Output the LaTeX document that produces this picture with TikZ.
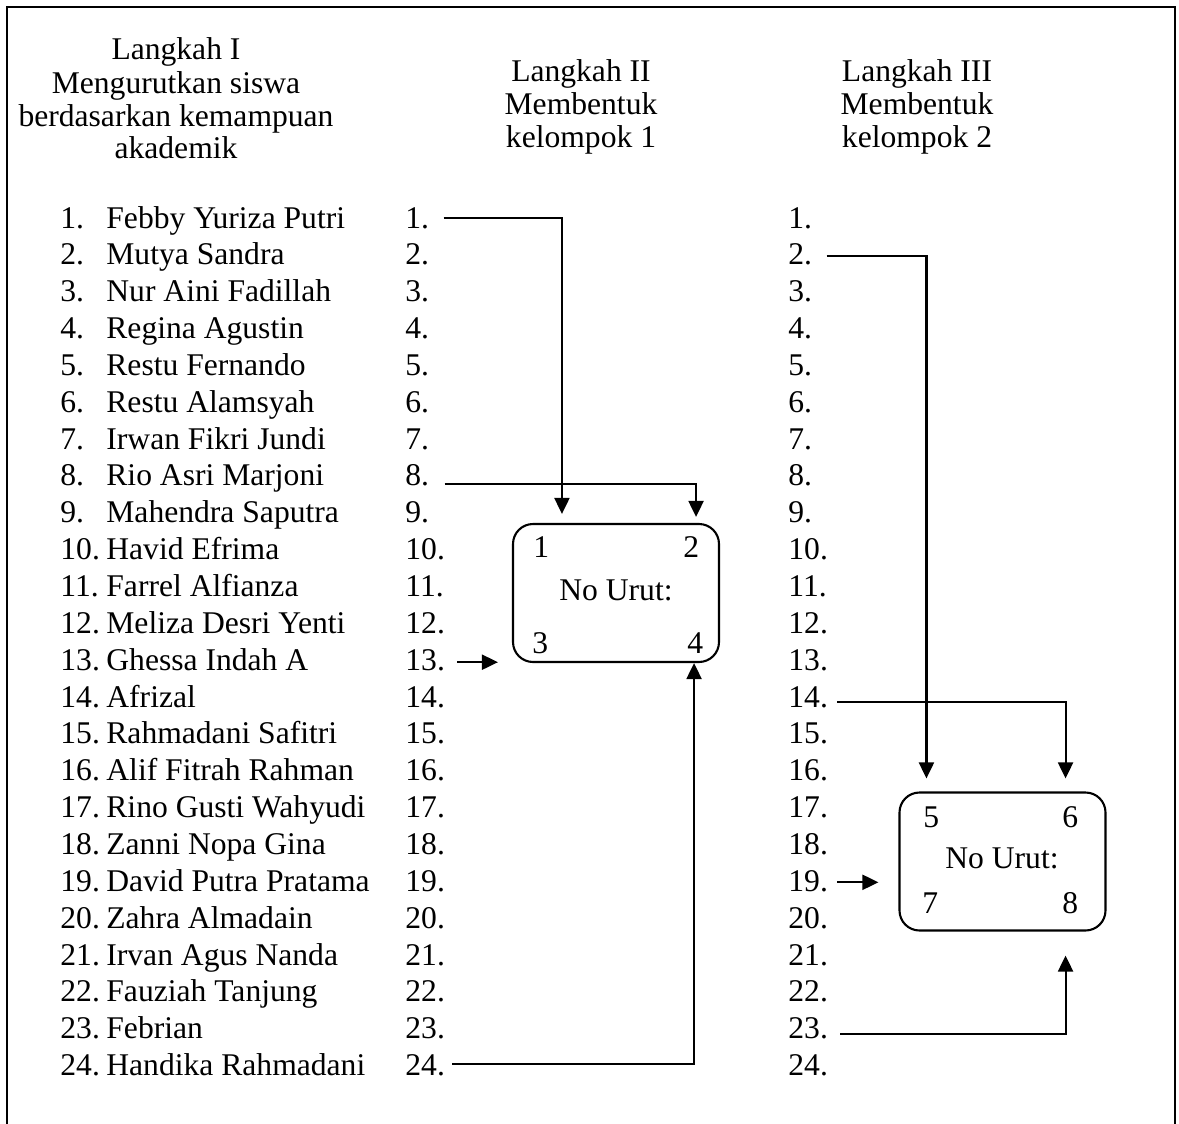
\documentclass[tikz,border=0pt]{standalone}
\usepackage{fontspec}
\setmainfont{Liberation Serif}
\usetikzlibrary{arrows.meta,calc}
\begin{document}
\begin{tikzpicture}[x=0.5pt,y=-0.5pt,
  txt/.style={inner sep=0pt, font=\fontsize{15.8}{16.6}\selectfont},
  lab/.style={txt, anchor=base west},
  ttl/.style={txt, anchor=base},
  grp/.style={draw, line width=1.05pt, rounded corners=10pt, minimum width=103pt, minimum height=69pt, inner sep=0pt},
  conn/.style={line width=1.05pt},
  arr/.style={conn, -{Triangle[length=8pt,width=7.5pt]}}]
\useasboundingbox (0,0) rectangle (1179,1124);
% frame (open at the bottom)
\draw[line width=1.1pt] (7,1124) -- (7,7) -- (1175,7) -- (1175,1124);

% titles
\node[ttl] (t1a) at (176,60)  {Langkah I};
\node[ttl] (t1b) at (176,93)  {Mengurutkan siswa};
\node[ttl] (t1c) at (176,126) {berdasarkan kemampuan};
\node[ttl] (t1d) at (176,158) {akademik};
\node[ttl] (t2a) at (581,81)  {Langkah II};
\node[ttl] (t2b) at (581,114) {Membentuk};
\node[ttl] (t2c) at (581,147) {kelompok 1};
\node[ttl] (t3a) at (917,81)  {Langkah III};
\node[ttl] (t3b) at (917,114) {Membentuk};
\node[ttl] (t3c) at (917,147) {kelompok 2};

% lists
\foreach \nm [count=\k] in {Febby Yuriza Putri, Mutya Sandra, Nur Aini Fadillah,
  Regina Agustin, Restu Fernando, Restu Alamsyah, Irwan Fikri Jundi,
  Rio Asri Marjoni, Mahendra Saputra, Havid Efrima, Farrel Alfianza,
  Meliza Desri Yenti, Ghessa Indah A, Afrizal, Rahmadani Safitri,
  Alif Fitrah Rahman, Rino Gusti Wahyudi, Zanni Nopa Gina,
  David Putra Pratama, Zahra Almadain, Irvan Agus Nanda,
  Fauziah Tanjung, Febrian, Handika Rahmadani}{
  \pgfmathsetmacro\yb{228+(\k-1)*36.85}
  \node[lab] (c1r\k) at (60,\yb)  {\k.};
  \node[lab] (nm\k)  at (106,\yb) {\nm};
  \node[lab] (c2r\k) at (405,\yb) {\k.};
  \node[lab] (c3r\k) at (788,\yb) {\k.};
}

% group boxes
\node[grp] (box1) at (616,593) {};
\node[lab] (b1a) at (533,557) {1};
\node[lab] (b1b) at (683,557) {2};
\node[ttl] (b1c) at (616,600) {No Urut:};
\node[lab] (b1d) at (532,653) {3};
\node[lab] (b1e) at (687,653) {4};

\node[grp] (box2) at (1002.5,861.5) {};
\node[lab] (b2a) at (923,827) {5};
\node[lab] (b2b) at (1062,827) {6};
\node[ttl] (b2c) at (1002,868) {No Urut:};
\node[lab] (b2d) at (922,913) {7};
\node[lab] (b2e) at (1062,913) {8};

% connectors, group 1
\coordinate (s1)  at ($(c2r1.base east)+(14,-10)$);
\coordinate (e1)  at ($(box1.north west)+(50,-9)$);
\draw[arr] (s1) -| (e1);
\coordinate (s8)  at ($(c2r8.base east)+(15,-2)$);
\coordinate (e8)  at ($(box1.north east)+(-24,-6)$);
\draw[arr] (s8) -| (e8);
\coordinate (s13) at ($(c2r13.base east)+(12,-8)$);
\coordinate (e13) at ($(box1.west)+(-14,0)$);
\draw[arr] (s13) -- (s13 -| e13);
\coordinate (s24) at ($(c2r24.base east)+(7,-12)$);
\coordinate (e24) at ($(box1.south east)+(-26,0)$);
\draw[arr] (s24) -| (e24);

% connectors, group 2
\coordinate (u2)  at ($(c3r2.base east)+(14,-9)$);
\coordinate (f2)  at ($(box2.north west)+(28,-13)$);
\draw[arr] (u2) -| (f2);
\coordinate (u14) at ($(c3r14.base east)+(9,-5)$);
\coordinate (f14) at ($(box2.north east)+(-41,-13)$);
\draw[arr] (u14) -| (f14);
\coordinate (u19) at ($(c3r19.base east)+(9,-9)$);
\coordinate (f19) at ($(box2.west)+(-20,0)$);
\draw[arr] (u19) -- (u19 -| f19);
\coordinate (u23) at ($(c3r23.base east)+(12,-5)$);
\coordinate (f23) at ($(box2.south east)+(-41,24)$);
\draw[arr] (u23) -| (f23);
\end{tikzpicture}
\end{document}
